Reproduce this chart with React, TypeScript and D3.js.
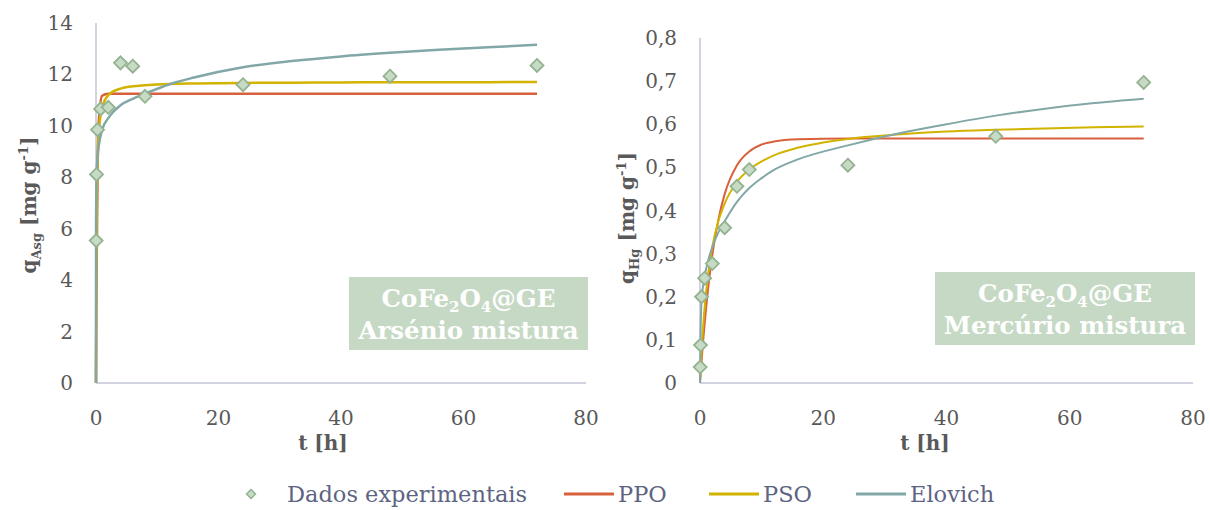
import React from "react";
import * as d3 from "d3";

const W = 1210;
const H = 510;

// Sampling times [h] of the batch experiments
const tData = [0.033, 0.083, 0.25, 0.75, 2, 4, 6, 8, 24, 48, 72];
// Measured uptake, arsenic and mercury [mg g-1]
const qAsData = [5.54, 8.11, 9.85, 10.66, 10.72, 12.45, 12.32, 11.15, 11.6, 11.93, 12.35];
const qHgData = [0.037, 0.088, 0.2, 0.243, 0.277, 0.36, 0.456, 0.495, 0.505, 0.572, 0.697];

// Kinetic model curves, arsenic
const tFitAs = [0, 0.01, 0.05, 0.1, 0.25, 0.5, 1, 2, 4, 6, 8, 12, 16, 24, 32, 40, 48, 56, 64, 72];
const ppoAs = [0, 0.55, 2.49, 4.43, 8.02, 10.33, 11.17, 11.25, 11.25, 11.25, 11.25, 11.25, 11.25, 11.25, 11.25, 11.25, 11.25, 11.25, 11.25, 11.25];
const psoAs = [0, 1.12, 4.05, 6.02, 8.5, 9.85, 10.71, 11.19, 11.45, 11.54, 11.58, 11.63, 11.65, 11.67, 11.68, 11.69, 11.7, 11.7, 11.7, 11.71];
const elovichAs = [0, 6.3, 7.5, 8.1, 8.8, 9.3, 9.85, 10.3, 10.8, 11.05, 11.25, 11.62, 11.88, 12.28, 12.52, 12.7, 12.84, 12.96, 13.06, 13.15];

// Kinetic model curves, mercury
const tFitHg = [0, 0.1, 0.25, 0.5, 1, 2, 3, 4, 6, 8, 10, 12, 16, 24, 32, 40, 48, 56, 64, 72];
const ppoHg = [0, 0.021, 0.05, 0.096, 0.175, 0.297, 0.38, 0.438, 0.505, 0.537, 0.553, 0.56, 0.565, 0.567, 0.567, 0.567, 0.567, 0.567, 0.567, 0.567];
const psoHg = [0, 0.031, 0.072, 0.129, 0.213, 0.316, 0.376, 0.416, 0.466, 0.495, 0.514, 0.528, 0.546, 0.566, 0.576, 0.583, 0.587, 0.59, 0.593, 0.595];
const elovichHg = [0, 0.12, 0.19, 0.225, 0.265, 0.315, 0.35, 0.375, 0.42, 0.452, 0.475, 0.494, 0.519, 0.551, 0.578, 0.6, 0.62, 0.636, 0.649, 0.659];

// Axis ticks
const xTicks = [0, 20, 40, 60, 80];
const yTicksAs = [0, 2, 4, 6, 8, 10, 12, 14];
const yTicksHg = [0, 0.1, 0.2, 0.3, 0.4, 0.5, 0.6, 0.7, 0.8];

const seriesNames = ["Dados experimentais", "PPO", "PSO", "Elovich"];

const FONT = "'DejaVu Serif', serif";
const C_PPO = "#d8603d";
const C_PSO = "#d1b300";
const C_ELO = "#82a7a7";
const C_AXIS = "#c2c6d6";
const C_TICK = "#595959";
const C_MARK_FILL = "#c7dac5";
const C_MARK_STROKE = "#93b38f";
const C_BOX = "#c6d9c5";

type PanelProps = {
  xRange: [number, number];
  yRange: [number, number];
  yMax: number;
  yTicks: number[];
  fmt: (v: number) => string;
  qData: number[];
  tFit: number[];
  ppo: number[];
  pso: number[];
  elovich: number[];
  lineWidth: number;
  xTitleX: number;
  yTitleX: number;
  yTitleY: number;
  yTitleSub: string;
  box: { x: number; y: number; w: number; h: number; line2: string };
};

function diamondPath(cx: number, cy: number, r: number) {
  return `M${cx},${cy - r}L${cx + r},${cy}L${cx},${cy + r}L${cx - r},${cy}Z`;
}

function Panel(p: PanelProps) {
  const x = d3.scaleLinear().domain([0, 80]).range(p.xRange);
  const y = d3.scaleLinear().domain([0, p.yMax]).range(p.yRange);
  const line = d3
    .line<[number, number]>()
    .x((d) => x(d[0]))
    .y((d) => y(d[1]))
    .curve(d3.curveMonotoneX);
  const pts = (vals: number[]) => p.tFit.map((t, i) => [t, vals[i]] as [number, number]);
  const x0 = x(0);
  const y0 = y(0);
  const cxBox = p.box.x + p.box.w / 2;
  return (
    <g>
      {/* axes */}
      <line x1={x0} x2={x(80)} y1={y0} y2={y0} stroke={C_AXIS} strokeWidth={1.5} />
      <line x1={x0} x2={x0} y1={y0} y2={y(p.yMax)} stroke={C_AXIS} strokeWidth={1.5} />
      {/* tick labels */}
      {p.yTicks.map((v) => (
        <text key={"y" + v} x={x0 - 23} y={y(v) + 7} textAnchor="end" fontFamily={FONT} fontSize={20} fill={C_TICK}>
          {p.fmt(v)}
        </text>
      ))}
      {xTicks.map((v) => (
        <text key={"x" + v} x={x(v)} y={425} textAnchor="middle" fontFamily={FONT} fontSize={20} fill={C_TICK}>
          {v}
        </text>
      ))}
      {/* axis titles */}
      <text x={p.xTitleX} y={450} textAnchor="middle" fontFamily={FONT} fontSize={20} fontWeight="bold" fill={C_TICK}>
        t [h]
      </text>
      <text
        transform={`translate(${p.yTitleX},${p.yTitleY}) rotate(-90)`}
        textAnchor="middle"
        fontFamily={FONT}
        fontSize={20}
        fontWeight="bold"
        fill={C_TICK}
      >
        q
        <tspan fontSize={13} dy={5}>{p.yTitleSub}</tspan>
        <tspan dy={-5}> [mg g</tspan>
        <tspan fontSize={13} dy={-8}>-1</tspan>
        <tspan dy={8}>]</tspan>
      </text>
      {/* label box */}
      <rect x={p.box.x} y={p.box.y} width={p.box.w} height={p.box.h} fill={C_BOX} />
      <text x={cxBox} y={p.box.y + 30} textAnchor="middle" fontFamily={FONT} fontSize={24.5} fontWeight="bold" fill="#ffffff">
        CoFe<tspan fontSize={15} dy={5}>2</tspan>
        <tspan dy={-5}>O</tspan>
        <tspan fontSize={15} dy={5}>4</tspan>
        <tspan dy={-5}>@GE</tspan>
      </text>
      <text x={cxBox} y={p.box.y + 62} textAnchor="middle" fontFamily={FONT} fontSize={24.5} fontWeight="bold" fill="#ffffff">
        {p.box.line2}
      </text>
      {/* model curves */}
      <path d={line(pts(p.ppo)) ?? ""} fill="none" stroke={C_PPO} strokeWidth={p.lineWidth} />
      <path d={line(pts(p.pso)) ?? ""} fill="none" stroke={C_PSO} strokeWidth={p.lineWidth} />
      <path d={line(pts(p.elovich)) ?? ""} fill="none" stroke={C_ELO} strokeWidth={p.lineWidth} />
      {/* experimental points */}
      {tData.map((t, i) => (
        <path
          key={"d" + i}
          d={diamondPath(x(t), y(p.qData[i]), 6.5)}
          fill={C_MARK_FILL}
          stroke={C_MARK_STROKE}
          strokeWidth={1.8}
        />
      ))}
    </g>
  );
}

function Legend() {
  const cy = 494;
  const items = [
    { color: C_PPO, x: 564 },
    { color: C_PSO, x: 709 },
    { color: C_ELO, x: 856 },
  ];
  const textColor = "#5d6482";
  return (
    <g>
      <path d={diamondPath(251, cy, 4.5)} fill={C_MARK_FILL} stroke={C_MARK_STROKE} strokeWidth={1.5} />
      <text x={287} y={cy + 8} fontFamily={FONT} fontSize={22.5} fill={textColor}>
        {seriesNames[0]}
      </text>
      {items.map((it, i) => (
        <g key={i}>
          <line x1={it.x} x2={it.x + 50} y1={cy} y2={cy} stroke={it.color} strokeWidth={3} />
          <text x={it.x + 54} y={cy + 8} fontFamily={FONT} fontSize={22.5} fill={textColor}>
            {seriesNames[i + 1]}
          </text>
        </g>
      ))}
    </g>
  );
}

export default function App() {
  const commaFmt = (v: number) => (v === 0 ? "0" : v.toFixed(1).replace(".", ","));
  return (
    <svg width={W} height={H} style={{ position: "absolute", left: 0, top: 0, background: "#fff" }}>
      <rect width={W} height={H} fill="#fff" />
      <Panel
        xRange={[96, 586]}
        yRange={[383, 23]}
        yMax={14}
        yTicks={yTicksAs}
        fmt={(v) => String(v)}
        qData={qAsData}
        tFit={tFitAs}
        ppo={ppoAs}
        pso={psoAs}
        elovich={elovichAs}
        lineWidth={2.5}
        xTitleX={323}
        yTitleX={36}
        yTitleY={205}
        yTitleSub="Asg"
        box={{ x: 349, y: 277, w: 239, h: 73, line2: "Arsénio mistura" }}
      />
      <Panel
        xRange={[700, 1193]}
        yRange={[383, 38]}
        yMax={0.8}
        yTicks={yTicksHg}
        fmt={commaFmt}
        qData={qHgData}
        tFit={tFitHg}
        ppo={ppoHg}
        pso={psoHg}
        elovich={elovichHg}
        lineWidth={2}
        xTitleX={925}
        yTitleX={634}
        yTitleY={218}
        yTitleSub="Hg"
        box={{ x: 935, y: 272, w: 260, h: 73, line2: "Mercúrio mistura" }}
      />
      <Legend />
    </svg>
  );
}
